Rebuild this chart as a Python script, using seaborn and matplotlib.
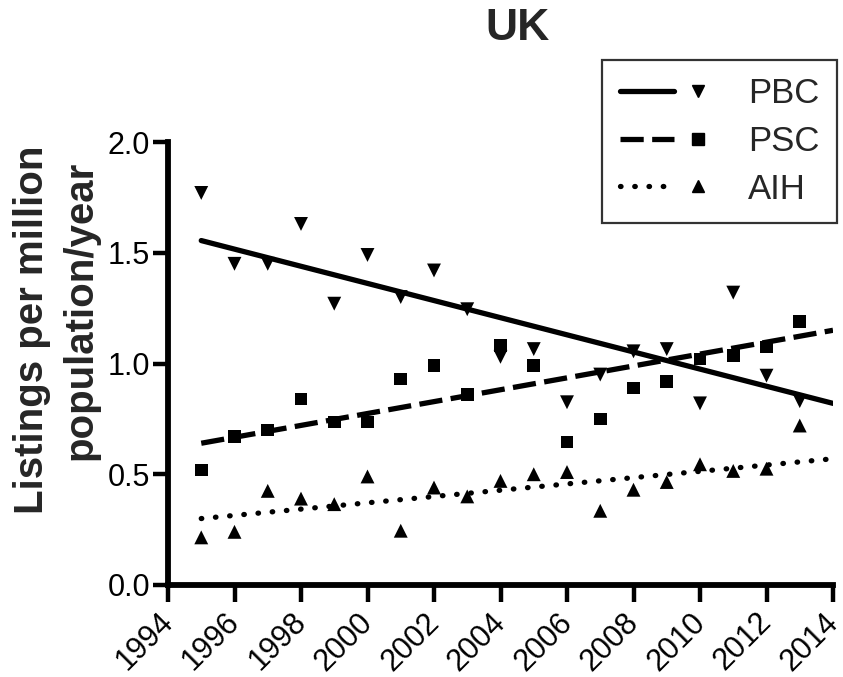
import numpy as np
import pandas as pd
import matplotlib
matplotlib.use("Agg")
import matplotlib.pyplot as plt
import matplotlib.transforms as mtransforms
import seaborn as sns
from matplotlib.lines import Line2D
from matplotlib.legend_handler import HandlerBase

years = list(range(1995, 2014))
pbc = [1.77, 1.45, 1.45, 1.63, 1.27, 1.49, 1.30, 1.42, 1.245, 1.03, 1.065, 0.825, 0.95, 1.055, 1.065, 0.82, 1.32, 0.945, 0.83]
psc = [0.52, 0.67, 0.70, 0.84, 0.735, 0.735, 0.93, 0.99, 0.86, 1.08, 0.99, 0.645, 0.75, 0.89, 0.92, 1.02, 1.035, 1.075, 1.19]
aih = [0.215, 0.24, 0.425, 0.39, 0.365, 0.49, 0.245, 0.44, 0.40, 0.47, 0.50, 0.51, 0.335, 0.43, 0.465, 0.545, 0.515, 0.525, 0.72]
series = ["PBC", "PSC", "AIH"]
# trend lines (linear regression lines)
trend_years = [1995, 2014]
pbc_trend = [1.555, 0.82]
psc_trend = [0.64, 1.15]
aih_trend = [0.30, 0.57]
xticks = list(range(1994, 2015, 2))
yticks = [0.0, 0.5, 1.0, 1.5, 2.0]

sns.set_style("ticks")
plt.rcParams["font.family"] = ["Liberation Sans", "DejaVu Sans"]

df = pd.DataFrame({
    "year": years * 3,
    "value": pbc + psc + aih,
    "disease": ["PBC"] * len(years) + ["PSC"] * len(years) + ["AIH"] * len(years),
})
trend_df = pd.DataFrame({
    "year": trend_years * 3,
    "value": pbc_trend + psc_trend + aih_trend,
    "disease": ["PBC"] * 2 + ["PSC"] * 2 + ["AIH"] * 2,
})

W, H = 843, 677
fig = plt.figure(figsize=(W / 100, H / 100), dpi=100)
L, R, T, B = 168, 833, 142, 585
ax = fig.add_axes([L / W, 1 - B / H, (R - L) / W, (B - T) / H])

markers = {"PBC": "v", "PSC": "s", "AIH": "^"}
msizes = {"PBC": 100, "PSC": 82, "AIH": 100}
styles = {"PBC": "-", "PSC": (0, (4.4, 1.6)), "AIH": (0, (0.1, 2.6))}
lw = {"PBC": 3.8, "PSC": 3.8, "AIH": 3.8}

for name in series:
    sub = df[df.disease == name]
    sns.scatterplot(data=sub, x="year", y="value", marker=markers[name], s=msizes[name],
                    color="black", edgecolor="none", ax=ax, legend=False, zorder=3)
    tsub = trend_df[trend_df.disease == name]
    sns.lineplot(data=tsub, x="year", y="value", color="black", ax=ax, legend=False,
                 linewidth=lw[name], zorder=2)
    ln = ax.lines[-1]
    ln.set_linestyle(styles[name])
    if name == "AIH":
        ln.set_dash_capstyle("round")

ax.set_xlim(1994, 2014)
ax.set_ylim(0, 2.0)
ax.set_xticks(xticks)
ax.set_xticklabels([str(t) for t in xticks], rotation=45, ha="right", rotation_mode="anchor", fontsize=22)
ax.set_yticks(yticks)
ax.set_yticklabels([f"{t:.1f}" for t in yticks], fontsize=22)
ax.tick_params(axis="x", direction="out", length=12, width=3.2, pad=4, colors="black")
ax.tick_params(axis="y", direction="out", length=11, width=3.2, pad=2, colors="black")
offset = mtransforms.ScaledTranslation(-10 / 100, 0, fig.dpi_scale_trans)
for lab in ax.get_xticklabels():
    lab.set_transform(lab.get_transform() + offset)
for s in ["top", "right"]:
    ax.spines[s].set_visible(False)
for s in ["left", "bottom"]:
    ax.spines[s].set_linewidth(4.2)
    ax.spines[s].set_color("black")
ax.set_xlabel("")
ax.set_ylabel("")

fig.text(32 / W, 1 - 330 / H, "Listings per million", rotation=90, ha="center", va="center",
         fontsize=29, fontweight="bold")
fig.text(80 / W, 1 - 310 / H, "population/year", rotation=90, ha="center", va="center",
         fontsize=29, fontweight="bold")
fig.text(518 / W, 1 - 28 / H, "UK", ha="center", va="center", fontsize=32, fontweight="bold")


class LineMarkerHandler(HandlerBase):
    def create_artists(self, legend, orig_handle, xdescent, ydescent, width, height, fontsize, trans):
        line, marker = orig_handle
        y = height / 2 - ydescent
        x0 = -xdescent
        l = Line2D([x0, x0 + 0.65 * width], [y, y])
        l.update_from(line)
        l.set_transform(trans)
        m = Line2D([x0 + 0.94 * width], [y])
        m.update_from(marker)
        m.set_transform(trans)
        return [l, m]


class LM(tuple):
    pass


handles = []
for name in series:
    lh = Line2D([], [], color="black", linestyle=styles[name], linewidth=3.8,
                dash_capstyle="round" if name == "AIH" else "butt")
    mh = Line2D([], [], color="black", marker=markers[name], linestyle="none", markersize=8)
    handles.append(LM((lh, mh)))
leg = fig.legend(handles, series, handler_map={LM: LineMarkerHandler()},
                 loc="upper right", bbox_to_anchor=(837 / W, 1 - 60 / H), bbox_transform=fig.transFigure,
                 frameon=True, fancybox=False, fontsize=25, handlelength=2.4, labelspacing=0.42,
                 borderpad=0.5, handletextpad=1.3, borderaxespad=0)
leg.get_frame().set_edgecolor("black")
leg.get_frame().set_linewidth(1.6)

fig.savefig("out.png", dpi=100)
